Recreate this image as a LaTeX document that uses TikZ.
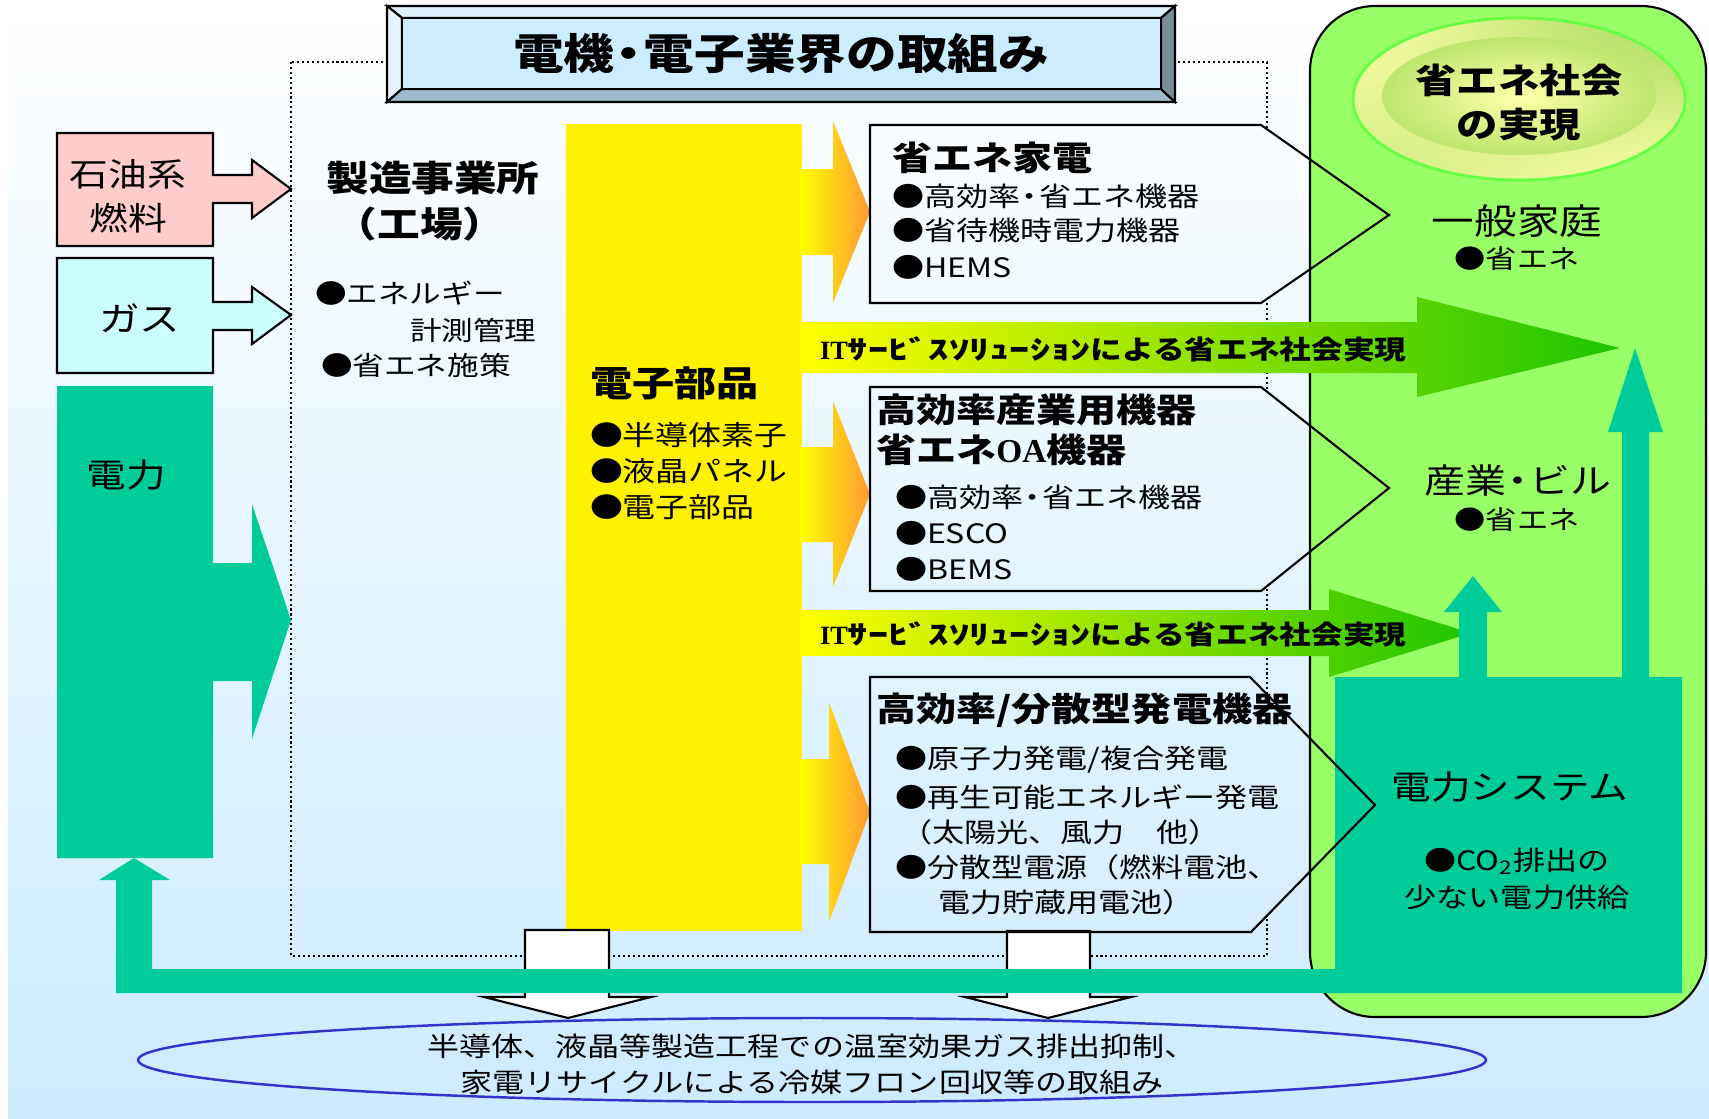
\documentclass[tikz,border=0pt]{standalone}
\usepackage{fontspec}
\usepackage{graphicx}
\usetikzlibrary{shadings}
\setmainfont[FakeStretch=1.2]{Noto Sans CJK JP}
\newfontfamily\serifit{Liberation Serif}
\newcommand\fz[1]{\fontsize{#1pt}{#1pt}\selectfont}
\newcommand\nd{\kern-0.25em・\kern-0.25em}
\definecolor{bgb}{RGB}{204,235,255}
\definecolor{dgreen}{RGB}{0,204,153}
\definecolor{lgreen}{RGB}{153,255,102}
\definecolor{pinkbox}{RGB}{255,204,204}
\definecolor{cyanbox}{RGB}{204,255,255}
\definecolor{ttlin}{RGB}{204,236,255}
\definecolor{ttltop}{RGB}{221,238,255}
\definecolor{ttlleft}{RGB}{228,242,255}
\definecolor{ttlbot}{RGB}{160,188,204}
\definecolor{ttlright}{RGB}{122,142,154}
\definecolor{orangeA}{RGB}{255,153,51}
\definecolor{itgreen}{RGB}{30,196,0}
\definecolor{itmid}{RGB}{190,232,0}
\definecolor{ellblue}{RGB}{51,51,204}
\definecolor{ellyel}{RGB}{255,255,170}
\definecolor{ellgrn}{RGB}{160,215,85}
\definecolor{ellin}{RGB}{190,230,110}
\definecolor{ellrim}{RGB}{102,255,68}
\begin{document}
\begin{tikzpicture}[x=0.01cm,y=-0.01cm,
  txt/.style={inner sep=0pt,outer sep=0pt},
  lbl/.style={txt,anchor=west},
  ln/.style={line width=0.6pt,draw=black},
  dotfr/.style={line width=0.6pt,dash pattern=on 0.6pt off 0.8pt},
  body/.style={font=\fz{7.6}},
  head/.style={font=\fz{9.5}\bfseries}]
\useasboundingbox (0,0) rectangle (1709,1118);
\fill[white] (0,0) rectangle (1709,1118);
\shade[top color=white,bottom color=bgb] (8,0) rectangle (1709,1118);

% dotted frame
\draw[dotfr] (291,62) rectangle (1267,956);

% title bevel box
\filldraw[ln,fill=ttltop] (387,6)--(1175,6)--(1161,18)--(402,18)--cycle;
\filldraw[ln,fill=ttlleft] (387,6)--(402,18)--(402,89)--(387,102)--cycle;
\filldraw[ln,fill=ttlbot] (387,102)--(402,89)--(1161,89)--(1175,102)--cycle;
\filldraw[ln,fill=ttlright] (1175,6)--(1161,18)--(1161,89)--(1175,102)--cycle;
\filldraw[ln,fill=ttlin] (402,18) rectangle (1161,89);
\node[txt,font=\fz{12}\bfseries] (title) at (781,54) {電機\nd 電子業界の取組み};

% input shapes
\filldraw[ln,fill=pinkbox] (57,133)--(213,133)--(213,175)--(252,175)--(252,160)--(291,189)--(252,218)--(252,203)--(213,203)--(213,246)--(57,246)--cycle;
\filldraw[ln,fill=cyanbox] (57,258)--(213,258)--(213,302)--(252,302)--(252,287)--(291,315)--(252,344)--(252,330)--(213,330)--(213,373)--(57,373)--cycle;
\fill[dgreen] (57,386)--(213,386)--(213,563)--(252,563)--(252,504)--(291,620)--(252,739)--(252,681)--(213,681)--(213,858)--(57,858)--cycle;

% yellow block and orange arrows
\fill[yellow] (566,124) rectangle (802,931);
\shade[left color=yellow,right color=orangeA] (800,169)--(833,169)--(833,121)--(870,212)--(833,303)--(833,255)--(800,255)--cycle;
\shade[left color=yellow,right color=orangeA] (800,447)--(833,447)--(833,401)--(870,494)--(833,587)--(833,542)--(800,542)--cycle;
\shade[left color=yellow,right color=orangeA] (800,759)--(829,759)--(829,702)--(870,812)--(829,922)--(829,864)--(800,864)--cycle;

% pentagon fills
\shade[top color=bgb!11!white,bottom color=bgb!27!white] (870,125)--(1261,125)--(1389,215)--(1261,303)--(870,303)--cycle;
\shade[top color=bgb!35!white,bottom color=bgb!53!white] (870,387)--(1261,387)--(1389,488)--(1261,591)--(870,591)--cycle;
\shade[top color=bgb!61!white,bottom color=bgb!83!white] (870,677)--(1250,677)--(1375,805)--(1251,932)--(870,932)--cycle;

% light green region
\filldraw[ln,fill=lgreen,rounded corners=0.65cm] (1310,6) rectangle (1706,1017);

% ellipse badge
\shade[upper left=ellyel,upper right=ellgrn,lower left=ellgrn!50!ellyel,lower right=ellyel] (1519,99) ellipse [x radius=166,y radius=81];
\draw[ellrim,line width=0.8pt] (1519,99) ellipse [x radius=166,y radius=81];
\shade[inner color=ellyel,outer color=ellin] (1519,96) ellipse [x radius=137,y radius=59];

% IT arrows
\shade[left color=yellow,middle color=itmid,right color=itgreen] (800,322)--(1417,322)--(1417,297)--(1620,348)--(1417,397)--(1417,373)--(800,373)--cycle;
\shade[left color=yellow,middle color=itmid,right color=itgreen] (800,610)--(1329,610)--(1329,589)--(1471,633)--(1329,677)--(1329,656)--(800,656)--cycle;

% white down arrows
\filldraw[ln,fill=white] (525,930)--(609,930)--(609,997)--(651,997)--(568,1018)--(484,997)--(525,997)--cycle;
\filldraw[ln,fill=white] (1007,931)--(1090,931)--(1090,997)--(1131,997)--(1048,1018)--(965,997)--(1007,997)--cycle;

% power system block, return bar and up arrows
\fill[dgreen] (1335,677) rectangle (1682,993);
\fill[dgreen] (1682,969)--(152,969)--(152,880)--(170,880)--(134,858)--(99,880)--(116,880)--(116,993)--(1682,993)--cycle;
\fill[dgreen] (1459,680)--(1459,612)--(1444,612)--(1473,576)--(1502,612)--(1487,612)--(1487,680)--cycle;
\fill[dgreen] (1622,680)--(1622,432)--(1608,432)--(1635,348)--(1663,432)--(1649,432)--(1649,680)--cycle;

% pentagon outlines
\draw[ln] (870,125)--(1261,125)--(1389,215)--(1261,303)--(870,303)--cycle;
\draw[ln] (870,387)--(1261,387)--(1389,488)--(1261,591)--(870,591)--cycle;
\draw[ln] (870,677)--(1250,677)--(1375,805)--(1251,932)--(870,932)--cycle;

% bottom ellipse
\draw[ellblue,line width=0.7pt] (812,1060) ellipse [x radius=674,y radius=42];

% ---- texts ----
\node[txt,font=\fz{9.2}] (oil1) at (128,174) {石油系};
\node[txt,font=\fz{9.2}] (oil2) at (128,218) {燃料};
\node[txt,font=\fz{9.6}] (gas) at (140,318) {ガス};
\node[txt,font=\fz{9.4}] (elec) at (126,475) {電力};

\node[txt,font=\fz{10.1}\bfseries] (fac1) at (433,178) {製造事業所};
\node[txt,font=\fz{10.1}\bfseries] (fac2) at (420,224) {（工場）};
\node[lbl,font=\fz{7.5}] (fa1) at (315,293) {●エネルギー};
\node[lbl,font=\fz{7.5}] (fa2) at (410,330) {計測管理};
\node[lbl,font=\fz{7.5}] (fa3) at (321,365) {●省エネ施策};

\node[lbl,font=\fz{10}\bfseries] (ep) at (590,383) {電子部品};
\node[lbl,font=\fz{7.8}] (ep1) at (590,435) {●半導体素子};
\node[lbl,font=\fz{7.8}] (ep2) at (590,471) {●液晶パネル};
\node[lbl,font=\fz{7.8}] (ep3) at (590,507) {●電子部品};

\node[lbl,head] (b1h) at (892,158) {省エネ家電};
\node[lbl,body] (b1a) at (892,196) {●高効率\nd 省エネ機器};
\node[lbl,body] (b1b) at (892,230) {●省待機時電力機器};
\node[lbl,body] (b1c) at (892,267) {●HEMS};

\node[lbl,head] (b2h) at (876,410) {高効率産業用機器};
\node[lbl,head] (b2i) at (876,450) {省エネ{\serifit\bfseries OA}機器};
\node[lbl,body] (b2a) at (895,497) {●高効率\nd 省エネ機器};
\node[lbl,body] (b2b) at (895,533) {●ESCO};
\node[lbl,body] (b2c) at (895,569) {●BEMS};

\node[lbl,head] (b3h) at (876,710) {高効率/分散型発電機器};
\node[lbl,body] (b3a) at (895,760) {●原子力発電/複合発電};
\node[lbl,body] (b3b) at (895,797) {●再生可能エネルギー発電};
\node[lbl,body] (b3c) at (900,832) {（太陽光、風力　他）};
\node[lbl,body] (b3d) at (895,867) {●分散型電源（燃料電池、};
\node[lbl,body] (b3e) at (938,902) {電力貯蔵用電池）};

\node[lbl,font=\fz{7.5}\bfseries] (it1) at (820,349) {{\serifit\bfseries\fz{7.5}IT}\scalebox{1.28}[1]{ｻｰﾋﾞｽｿﾘｭｰｼｮﾝ}による省エネ社会実現};
\node[lbl,font=\fz{7.5}\bfseries] (it2) at (820,634) {{\serifit\bfseries\fz{7.5}IT}\scalebox{1.28}[1]{ｻｰﾋﾞｽｿﾘｭｰｼｮﾝ}による省エネ社会実現};

\node[txt,font=\fz{9.8}\bfseries] (goal1) at (1519,80) {省エネ社会};
\node[txt,font=\fz{9.8}\bfseries] (goal2) at (1519,125) {の実現};

\node[txt,font=\fz{10.1}] (home) at (1517,221) {一般家庭};
\node[txt,font=\fz{7.4}] (home1) at (1517,259) {●省エネ};
\node[txt,font=\fz{9.7}] (ind) at (1518,481) {産業\nd ビル};
\node[txt,font=\fz{7.4}] (ind1) at (1517,520) {●省エネ};
\node[txt,font=\fz{9.4}] (ps) at (1510,787) {電力システム};
\node[txt,font=\fz{7.6}] (ps1) at (1517,861) {●CO\textsubscript{2}排出の};
\node[txt,font=\fz{7.6}] (ps2) at (1517,897) {少ない電力供給};

\node[txt,font=\fz{7.6}] (env1) at (812,1046) {半導体、液晶等製造工程での温室効果ガス排出抑制、};
\node[txt,font=\fz{7.6}] (env2) at (812,1082) {家電リサイクルによる冷媒フロン回収等の取組み};
\end{tikzpicture}
\end{document}
